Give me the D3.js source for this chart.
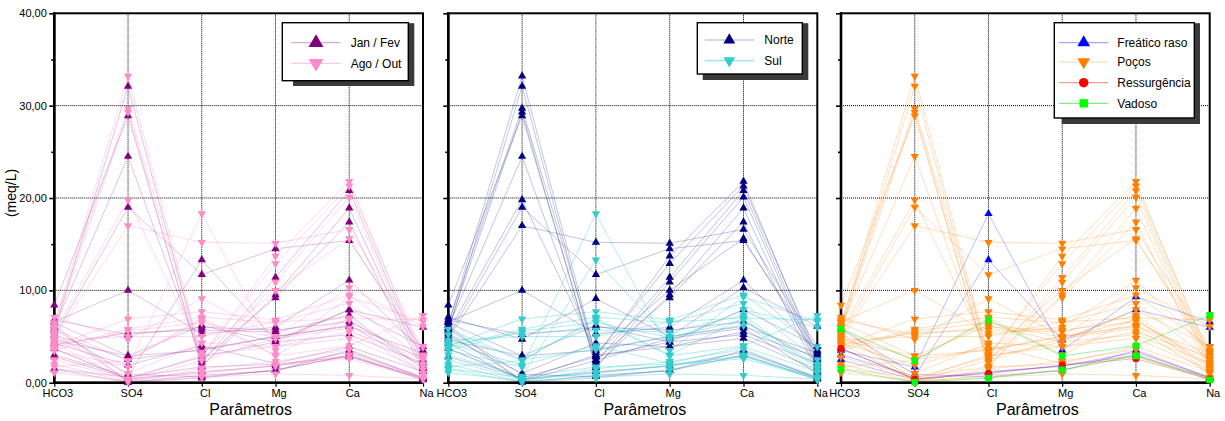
<!DOCTYPE html>
<html>
<head>
<meta charset="utf-8">
<script src="https://cdn.jsdelivr.net/npm/d3@7"></script>
<style>
  body { margin: 0; background: #fff; }
  svg { display: block; font-family: Arial, "Liberation Sans", sans-serif; }
</style>
</head>
<body>
<svg id="chart" width="1225" height="421"></svg>
<script>
// Ion concentrations (meq/L) per water sample
const params = ["HCO3", "SO4", "Cl", "Mg", "Ca", "Na"];
const yTicks = [0, 10, 20, 30, 40];
const yMinorTicks = [5, 15, 25, 35];

// one row per sample: HCO3, SO4, Cl, Mg, Ca, Na
const values = [
  [6.2, 33.2, 2.8, 13.7, 21.8, 2.5],
  [5.6, 32.1, 2.2, 11.4, 20.8, 2.2],
  [6.5, 29.7, 3.0, 12.9, 21.3, 3.0],
  [5.9, 29.3, 1.6, 10.9, 20.1, 1.8],
  [8.4, 28.9, 1.8, 9.5, 18.9, 1.6],
  [6.0, 24.5, 2.5, 9.2, 17.4, 1.2],
  [5.5, 19.8, 3.3, 10.0, 15.6, 2.8],
  [5.0, 19.0, 11.7, 14.5, 15.4, 3.5],
  [4.8, 17.0, 15.2, 15.1, 16.6, 3.9],
  [6.6, 10.0, 5.3, 6.0, 11.1, 3.4],
  [7.1, 4.7, 9.1, 5.0, 10.3, 6.1],
  [6.5, 2.9, 6.2, 4.4, 7.9, 3.9],
  [5.0, 1.0, 4.3, 3.9, 5.5, 2.8],
  [4.6, 2.9, 3.5, 5.0, 6.1, 3.2],
  [2.8, 0.5, 2.8, 4.4, 5.2, 2.1],
  [5.8, 0.9, 0.65, 1.3, 3.5, 0.5],
  [6.2, 0.05, 0.8, 1.3, 3.0, 0.4],
  [6.8, 5.2, 6.0, 5.7, 6.6, 2.5],
  [5.3, 0.3, 3.0, 3.9, 4.8, 1.4],
  [4.3, 0.2, 2.4, 4.8, 5.9, 1.0],
  [3.7, 0.4, 1.2, 1.8, 3.3, 0.6],
  [3.5, 1.7, 18.3, 3.5, 9.3, 6.6],
  [3.0, 0.7, 13.3, 4.6, 7.9, 6.0],
  [5.8, 2.4, 6.8, 2.9, 4.0, 7.3],
  [1.45, 0.05, 0.5, 1.4, 2.9, 0.3],
  [3.7, 0.4, 1.0, 1.9, 2.6, 0.4],
  [2.5, 0.3, 1.1, 1.8, 3.0, 0.5],
  [4.0, 6.9, 7.7, 6.8, 9.5, 3.9],
  [3.8, 5.8, 7.1, 6.5, 8.6, 2.5],
  [4.1, 5.4, 5.7, 5.5, 7.3, 1.5],
  [3.5, 5.6, 6.5, 4.9, 6.8, 2.0],
  [1.7, 2.4, 7.0, 3.0, 7.0, 1.0],
  [1.1, 0.2, 0.6, 0.95, 0.8, 0.4],
  [4.3, 1.9, 4.0, 2.1, 3.9, 1.2],
  [1.5, 0.6, 1.7, 2.0, 2.8, 0.5],
  [4.6, 5.0, 5.0, 6.6, 7.0, 6.8],
  [5.2, 2.5, 3.6, 5.0, 6.2, 1.8],
  [2.0, 0.1, 1.5, 2.3, 3.6, 0.6]
];

// sampling campaign of each row
const season = ["A","J","A","A","J","J","A","J","A","J","A","J","A","J","J","J","J","J","A","A","J",
                "A","J","A","J","A","A","A","A","J","A","A","A","J","J","A","J","A"];
// zone of each row
const region = ["N","N","N","N","N","N","N","N","N","N","N","N","N","N","N","N","N","N","N","N","N",
                "S","S","S","S","S","S","S","S","S","S","S","S","S","S","S","S","S"];
// water type of each row: F freático raso, P poço, R ressurgência, V vadoso
const kind = ["P","P","P","P","P","P","P","P","P","P","P","P","P","P","P","F","P","P","P","P","F",
              "F","F","V","V","R","F","P","P","P","P","P","P","P","P","P","P","P"];

const seasonNames = ["Jan / Fev", "Ago / Out"];
const regionNames = ["Norte", "Sul"];
const kindNames = ["Freático raso", "Poços", "Ressurgência", "Vadoso"];

const y = d3.scaleLinear().domain([0, 40]).range([382.7, 13.3]);
const fmt = d => d.toFixed(2).replace(".", ",");

const triUp = d3.symbolTriangle;
const triDown = { draw(ctx, size) { // triangle pointing down
  const h = Math.sqrt(size / (3 * Math.sqrt(3)));
  ctx.moveTo(0, 2 * h);
  ctx.lineTo(-Math.sqrt(3) * h, -h);
  ctx.lineTo(Math.sqrt(3) * h, -h);
  ctx.closePath();
}};

const panels = [
  {
    x0: 54.3, x1: 423, showLabels: true,
    key: i => season[i],
    groups: [
      { id: "J", name: seasonNames[0], color: "#800080", line: "rgba(128,0,128,0.32)", symbol: triUp },
      { id: "A", name: seasonNames[1], color: "#ff8cc8", line: "rgba(255,140,200,0.45)", symbol: triDown }
    ],
    legend: { x: 282.3, y: 22.7, w: 126, h: 58, sx: 293, sx2: 414.3, sy2: 86, lx0: 291, lx1: 340.7, mx: 316, tx: 350.7, rows: [42.7, 63.3], ms: 95 }
  },
  {
    x0: 448.3, x1: 817.3, showLabels: false,
    key: i => region[i],
    groups: [
      { id: "N", name: regionNames[0], color: "#000080", line: "rgba(0,0,128,0.32)", symbol: triUp },
      { id: "S", name: regionNames[1], color: "#33cccc", line: "rgba(51,204,204,0.5)", symbol: triDown }
    ],
    legend: { x: 697.3, y: 22.7, w: 105, h: 51.3, sx: 702.7, sx2: 808.3, sy2: 80, lx0: 705, lx1: 754.3, mx: 729.3, tx: 764.3, rows: [40, 60.7], ms: 60 }
  },
  {
    x0: 841, x1: 1209.7, showLabels: false,
    key: i => kind[i],
    groups: [
      { id: "F", name: kindNames[0], color: "#0000ff", line: "rgba(0,0,255,0.35)", symbol: triUp },
      { id: "P", name: kindNames[1], color: "#ff8000", line: "rgba(255,128,0,0.35)", symbol: triDown },
      { id: "R", name: kindNames[2], color: "#ff0000", line: "rgba(255,0,0,0.4)", symbol: d3.symbolCircle },
      { id: "V", name: kindNames[3], color: "#00ff00", line: "rgba(0,220,0,0.5)", symbol: d3.symbolSquare }
    ],
    legend: { x: 1054.3, y: 22.7, w: 140, h: 95.3, sx: 1061.7, sx2: 1200, sy2: 124, lx0: 1059, lx1: 1108.3, mx: 1083.7, tx: 1117.3, rows: [42.7, 62, 82.7, 103.3], ms: 70 }
  }
];

const svg = d3.select("#chart");

panels.forEach(p => {
  const x = d3.scalePoint().domain(params).range([p.x0, p.x1]);
  const g = svg.append("g");

  // dotted grid
  g.append("g").selectAll("line").data([10, 20, 30]).join("line")
    .attr("x1", p.x0).attr("x2", p.x1).attr("y1", d => y(d)).attr("y2", d => y(d))
    .attr("stroke", "#000").attr("stroke-width", 1).attr("stroke-dasharray", "1,1");
  g.append("g").selectAll("line").data(params.slice(1, 5)).join("line")
    .attr("x1", d => x(d)).attr("x2", d => x(d)).attr("y1", y(40)).attr("y2", y(0))
    .attr("stroke", "#000").attr("stroke-width", 1).attr("stroke-dasharray", "1,1");

  // sample profiles
  const line = d3.line().x((d, j) => x(params[j])).y(d => y(d));
  p.groups.forEach(grp => {
    const idx = values.map((v, i) => i).filter(i => p.key(i) === grp.id);
    g.append("g").selectAll("path").data(idx).join("path")
      .attr("d", i => line(values[i]))
      .attr("fill", "none").attr("stroke", grp.line).attr("stroke-width", 0.75);
  });

  // axes
  const yAxis = d3.axisLeft(y).tickValues(yTicks).tickSize(5).tickPadding(2.5)
    .tickFormat(p.showLabels ? fmt : "");
  const ya = g.append("g").attr("transform", `translate(${p.x0},0)`).call(yAxis);
  ya.select(".domain").remove();
  ya.selectAll("line").attr("stroke-width", 1.6);
  ya.selectAll("text").attr("font-size", 11).attr("fill", "#000");
  const ym = g.append("g").attr("transform", `translate(${p.x0},0)`)
    .call(d3.axisLeft(y).tickValues(yMinorTicks).tickSize(3).tickFormat(""));
  ym.select(".domain").remove();
  ym.selectAll("line").attr("stroke-width", 1.6);

  const xAxis = d3.axisBottom(x).tickSize(4).tickPadding(3);
  const xa = g.append("g").attr("transform", `translate(0,${y(0)})`).call(xAxis);
  xa.select(".domain").remove();
  xa.selectAll("line").attr("stroke-width", 1.2);
  xa.selectAll("text").attr("font-size", 11).attr("fill", "#000").attr("dx", 3);

  // frame
  g.append("rect").attr("x", p.x0).attr("y", y(40)).attr("width", p.x1 - p.x0).attr("height", y(0) - y(40))
    .attr("fill", "none").attr("stroke", "#000").attr("stroke-width", 2);
  g.append("line").attr("x1", p.x0).attr("x2", p.x0).attr("y1", y(40) - 1).attr("y2", y(0) + 1)
    .attr("stroke", "#000").attr("stroke-width", 2.6);
  g.append("line").attr("x1", p.x0).attr("x2", p.x1 + 1).attr("y1", y(0)).attr("y2", y(0))
    .attr("stroke", "#000").attr("stroke-width", 2.6);

  // markers
  p.groups.forEach(grp => {
    const sym = d3.symbol().type(grp.symbol).size(grp.symbol === d3.symbolSquare ? 44 : (grp.symbol === d3.symbolCircle ? 40 : 30));
    const pts = [];
    values.forEach((v, i) => {
      if (p.key(i) === grp.id) v.forEach((val, j) => pts.push([x(params[j]), y(val)]));
    });
    g.append("g").selectAll("path").data(pts).join("path")
      .attr("transform", d => `translate(${d[0]},${d[1]})`)
      .attr("d", sym).attr("fill", grp.color);
  });

  // axis title
  g.append("text").attr("x", (p.x0 + p.x1) / 2 + 12).attr("y", 415)
    .attr("text-anchor", "middle").attr("font-size", 16).attr("fill", "#000").text("Parâmetros");

  // legend with drop shadow
  const L = p.legend;
  g.append("rect").attr("x", L.sx).attr("y", L.y + 0.5).attr("width", L.sx2 - L.sx).attr("height", L.sy2 - L.y - 0.5)
    .attr("fill", "#3a3a3a");
  g.append("rect").attr("x", L.x).attr("y", L.y).attr("width", L.w).attr("height", L.h)
    .attr("fill", "#fff").attr("stroke", "#000").attr("stroke-width", 1.4);
  p.groups.forEach((grp, k) => {
    const ry = L.rows[k];
    g.append("line").attr("x1", L.lx0).attr("x2", L.lx1).attr("y1", ry).attr("y2", ry)
      .attr("stroke", grp.line).attr("stroke-width", 1.2);
    g.append("path").attr("transform", `translate(${L.mx},${ry})`)
      .attr("d", d3.symbol().type(grp.symbol).size(L.ms)).attr("fill", grp.color);
    g.append("text").attr("x", L.tx).attr("y", ry).attr("dy", "0.36em")
      .attr("font-size", 12).attr("fill", "#000").text(grp.name);
  });
});

// shared y title
svg.append("text").attr("transform", "translate(16,193) rotate(-90)")
  .attr("text-anchor", "middle").attr("font-size", 14).attr("fill", "#000").text("(meq/L)");
</script>
</body>
</html>
